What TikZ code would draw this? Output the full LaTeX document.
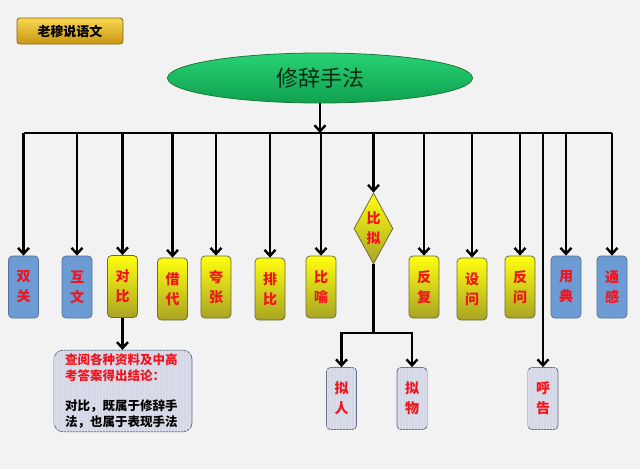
\documentclass[tikz,border=0pt]{standalone}
\usepackage{fontspec}
\setmainfont{Noto Sans CJK SC}
\usetikzlibrary{shapes, calc, positioning, arrows.meta, shapes.geometric, patterns}

\definecolor{bgGrey}{HTML}{F2F2F2}
\definecolor{boxBlue}{HTML}{6D9BD3}
\definecolor{lineBlue}{HTML}{53739E}
\definecolor{ylwTop}{HTML}{FFFF10}
\definecolor{ylwBot}{HTML}{A8A424}
\definecolor{lineOlive}{HTML}{6E6C3A}
\definecolor{noteFill}{HTML}{D4D7E5}
\definecolor{noteLine}{HTML}{667088}
\definecolor{txtRed}{HTML}{F0141E}

\begin{document}
\begin{tikzpicture}[x=1pt, y=-1pt, line width=2.4pt, > = {Straight Barb[length=6pt,width=11pt]},
    card/.style = {rectangle, rounded corners=4pt, line width=0.8pt, minimum width=30pt, minimum height=62pt,
                   inner sep=0pt, align=center, text=txtRed, font=\fontsize{14}{20}\selectfont\bfseries},
    bluecard/.style = {card, draw=lineBlue, fill=boxBlue},
    ylwcard/.style = {card, draw=lineOlive, top color=ylwTop, bottom color=ylwBot},
    greycard/.style = {card, draw=noteLine, fill=noteFill, postaction={pattern=vertical lines, pattern color=white!18!noteFill}}]
    % background and margins
    \fill[bgGrey] (0,0) rectangle (640,469);
    \useasboundingbox (0,0) rectangle (640,469);
    % title tag and root
    \node[rectangle, rounded corners=3pt, line width=0.8pt, draw={rgb,255:red,130;green,100;blue,20}, top color={rgb,255:red,250;green,215;blue,80},
          bottom color={rgb,255:red,200;green,150;blue,20}, minimum width=106pt, minimum height=26pt,
          font=\fontsize{13}{13}\selectfont\bfseries] (brand) at (70,31) {老穆说语文};
    \node[ellipse, line width=0.8pt, draw={rgb,255:red,30;green,120;blue,60}, top color={rgb,255:red,40;green,210;blue,115},
          bottom color={rgb,255:red,15;green,160;blue,80}, minimum width=305pt, minimum height=50pt,
          font=\fontsize{22}{22}\selectfont, text={rgb,255:red,10;green,40;blue,20}] (root) at (320,78) {修辞手法};
    \coordinate (bar) at (320,133);
    % first row
    \node[bluecard] (shuangguan) at (23.5,287) {双\\关};
    \node[bluecard] (huwen) at (77,287) {互\\文};
    \node[ylwcard] (duibi) at (122.5,286.5) {对\\比};
    \node[ylwcard] (jiedai) at (172.5,289) {借\\代};
    \node[ylwcard] (kuazhang) at (216,287) {夸\\张};
    \node[ylwcard] (paibi) at (270,289) {排\\比};
    \node[ylwcard] (biyu) at (321,287) {比\\喻};
    \node[diamond, aspect=0.55, inner sep=0pt, minimum width=39pt, minimum height=71pt, line width=0.8pt, draw=lineOlive,
          top color=ylwTop, bottom color=ylwBot, align=center, text=txtRed,
          font=\fontsize{14}{20}\selectfont\bfseries] (bini) at (373.5,228.5) {比\\拟};
    \node[ylwcard] (fanfu) at (424,287) {反\\复};
    \node[ylwcard] (shewen) at (472,289) {设\\问};
    \node[ylwcard] (fanwen) at (520,287) {反\\问};
    \node[bluecard] (yongdian) at (566,287) {用\\典};
    \node[bluecard] (tonggan) at (612,287) {通\\感};
    % second row
    \node[greycard] (niren) at (341.5,398.5) {拟\\人};
    \node[greycard] (niwu) at (412,398.5) {拟\\物};
    \node[greycard] (hugao) at (543,398.5) {呼\\告};
    \node[rectangle, rounded corners=9pt, line width=0.8pt, draw=noteLine, fill=noteFill,
          postaction={pattern=vertical lines, pattern color=white!18!noteFill},
          minimum width=138pt, minimum height=80pt, text width=116pt, align=left,
          font=\fontsize{12.5}{16}\selectfont] (note) at (123,391)
          {\textcolor{txtRed}{\bfseries 查阅各种资料及中高\\考答案得出结论：}\\[14pt]\bfseries 对比，既属于修辞手\\法，也属于表现手法};
    % connectors
    \draw[->] (root) -- (bar);
    \draw (shuangguan.north |- bar) -- (tonggan.north |- bar);
    \foreach \n in {shuangguan, huwen, duibi, jiedai, kuazhang, paibi, biyu, bini, fanfu, shewen, fanwen, hugao, yongdian, tonggan}
        \draw[->] (\n.north |- bar) -- (\n.north);
    \draw[->] (duibi.south) -- (duibi.south |- note.north);
    \coordinate (split) at (373.5,333);
    \draw (bini.south) -- (split);
    \draw[->] (split) -| (niren.north);
    \draw[->] (split) -| (niwu.north);
\end{tikzpicture}
\end{document}
